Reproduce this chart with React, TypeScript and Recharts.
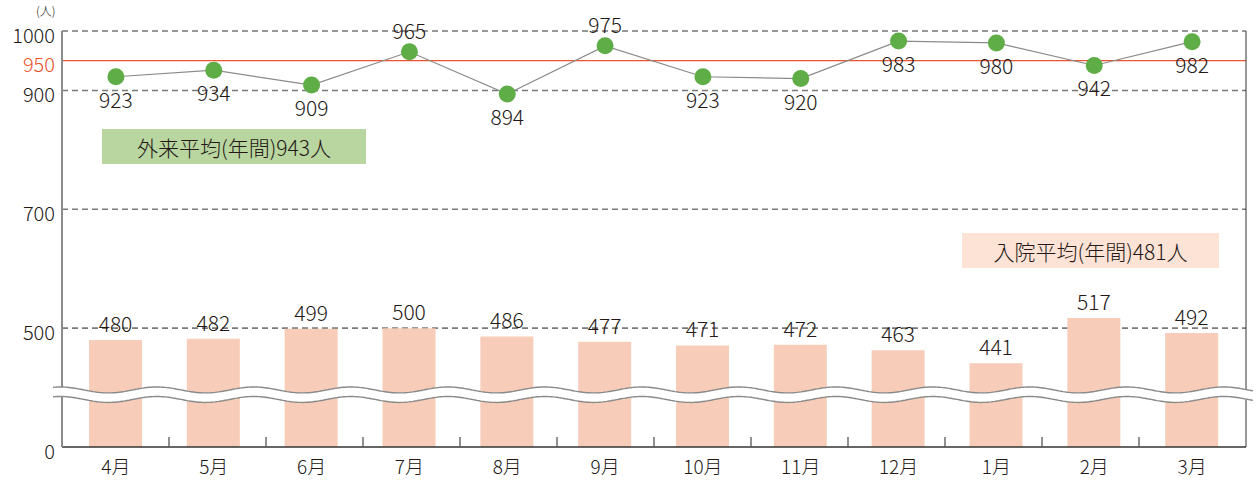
import React from 'react';
import {
  ComposedChart,
  Bar,
  Line,
  XAxis,
  YAxis,
  ReferenceLine,
  ReferenceArea,
  LabelList,
} from 'recharts';

// ---- data ----
const months = ['4月', '5月', '6月', '7月', '8月', '9月', '10月', '11月', '12月', '1月', '2月', '3月'];
const inpatient = [480, 482, 499, 500, 486, 477, 471, 472, 463, 441, 517, 492];
const outpatient = [923, 934, 909, 965, 894, 975, 923, 920, 983, 980, 942, 982];
const labelAboveMonths = ['7月', '9月'];
const yTicks = [300, 500, 700, 900, 950, 1000]; // 300 is the broken-axis floor, shown as "0"
const axisFloor = 300;
const targetValue = 950;
const gridValues = [500, 700, 900];
const topValue = 1000;
const breakRange = [380, 396];
const unitLabel = '(人)';
const outpatientAvgText = '外来平均(年間)943人';
const inpatientAvgText = '入院平均(年間)481人';

const data = months.map((m, i) => ({ month: m, inpatient: inpatient[i], outpatient: outpatient[i] }));

const FONT = '"Noto Sans CJK JP", "Noto Sans", sans-serif';
const TEXT = '#231815';
const W = 300;
const PAD = 5;

const YTick = (props: any) => {
  const { x, y, payload } = props;
  const v = payload.value;
  return (
    <text x={x} y={y} dy={11.5} textAnchor="end" fontSize={20} fontFamily={FONT} fontWeight={W}
      fill={v === targetValue ? '#e9532b' : TEXT}>
      {v === axisFloor ? '0' : v}
    </text>
  );
};

const XTick = (props: any) => {
  const { x, y, payload } = props;
  return (
    <text x={x} y={y} dy={27} textAnchor="middle" fontSize={19} fontFamily={FONT} fontWeight={W} fill={TEXT}>
      {payload.value}
    </text>
  );
};

const LineLabel = (props: any) => {
  const { x, y, value, index } = props;
  const m = index != null ? months[index] : months[outpatient.indexOf(value)];
  const above = labelAboveMonths.includes(m);
  return (
    <text x={x} y={above ? y - 13 : y + 31} textAnchor="middle" fontSize={21} fontFamily={FONT} fontWeight={W} fill={TEXT}>
      {value}
    </text>
  );
};

const BreakWave = (props: any) => {
  const { x, y, width, height } = props;
  const n = months.length;
  const P = (width - 2 * PAD) / n;
  const bandLeft = x + PAD;
  const peakX = bandLeft + P * 0.875;
  const A = 3;
  const left = x - 14;
  const right = x + width + 12;
  const top: [number, number][] = [];
  const bot: [number, number][] = [];
  for (let px = left; px <= right; px += 2) {
    const d = -A * Math.cos((2 * Math.PI * (px - peakX)) / P);
    top.push([px, y + d]);
    bot.push([px, y + height + d]);
  }
  const toPath = (pts: [number, number][]) =>
    pts.map((p, i) => `${i ? 'L' : 'M'}${p[0].toFixed(1)},${p[1].toFixed(1)}`).join(' ');
  const fill =
    toPath(top) + ' ' + bot.slice().reverse().map((p) => `L${p[0].toFixed(1)},${p[1].toFixed(1)}`).join(' ') + ' Z';
  return (
    <g>
      <path d={fill} fill="#fff" stroke="none" />
      <path d={toPath(top)} fill="none" stroke="#8a8a8a" strokeWidth={1.4} />
      <path d={toPath(bot)} fill="none" stroke="#8a8a8a" strokeWidth={1.4} />
    </g>
  );
};

const Separators = (props: any) => {
  const { x, y, width, height } = props;
  const n = months.length;
  const P = (width - 2 * PAD) / n;
  const bottom = y + height;
  const lines = [];
  for (let k = 1; k < n; k++) {
    const px = x + PAD + k * P;
    lines.push(<line key={k} x1={px} x2={px} y1={bottom} y2={bottom - 10} stroke="#555" strokeWidth={1.3} />);
  }
  return <g>{lines}</g>;
};

export default function App() {
  return (
    <div style={{ position: 'absolute', left: 0, top: 0, width: 1256, height: 482, background: '#fff', fontFamily: FONT, fontWeight: W }}>
      <ComposedChart width={1256} height={482} data={data} margin={{ top: 31, right: 0, bottom: 0, left: 0 }}>
        <ReferenceLine yAxisId="y" xAxisId="x" y={topValue} stroke="#333" strokeDasharray="6 4" strokeWidth={1.2} zIndex={-10} />
        {gridValues.map((v) => (
          <ReferenceLine key={v} yAxisId="y" xAxisId="x" y={v} stroke="#7a7a7a" strokeDasharray="6 4" strokeWidth={1.6} zIndex={-10} />
        ))}
        <ReferenceLine yAxisId="y" xAxisId="x" y={targetValue} stroke="#ea5532" strokeWidth={1.3} zIndex={-10} />
        <XAxis
          xAxisId="x"
          dataKey="month"
          padding={{ left: PAD, right: PAD }}
          axisLine={{ stroke: '#333', strokeWidth: 1.5 }}
          tickLine={false}
          tickSize={0}
          tickMargin={0}
          height={35}
          interval={0}
          tick={<XTick />}
        />
        <YAxis
          yAxisId="y"
          orientation="left"
          width={62}
          domain={[axisFloor, 1000]}
          ticks={yTicks}
          allowDataOverflow
          interval={0}
          axisLine={{ stroke: '#8c8c8c', strokeWidth: 2 }}
          tickLine={false}
          tickSize={0}
          tickMargin={7}
          tick={<YTick />}
        />
        <YAxis
          yAxisId="r"
          orientation="right"
          width={10}
          domain={[axisFloor, 1000]}
          tick={false}
          tickLine={false}
          axisLine={{ stroke: '#333', strokeWidth: 1 }}
        />
        <Bar yAxisId="y" xAxisId="x" dataKey="inpatient" fill="#f7cdb9" barSize={53} isAnimationActive={false}>
          <LabelList dataKey="inpatient" position="top" offset={8} fontSize={21} fontFamily={FONT} fontWeight={W} fill={TEXT} />
        </Bar>
        <Line
          yAxisId="y"
          xAxisId="x"
          dataKey="outpatient"
          stroke="#8a8a8a"
          strokeWidth={1.2}
          dot={{ r: 8.5, fill: '#5fad46', stroke: 'none' }}
          activeDot={false}
          isAnimationActive={false}
        >
          <LabelList dataKey="outpatient" content={<LineLabel />} />
        </Line>
        <ReferenceArea yAxisId="y" xAxisId="x" y1={axisFloor} y2={axisFloor + 17} shape={<Separators />} ifOverflow="visible" zIndex={650} />
        <ReferenceArea yAxisId="y" xAxisId="x" y1={breakRange[0]} y2={breakRange[1]} shape={<BreakWave />} ifOverflow="visible" zIndex={600} />
      </ComposedChart>
      <div style={{ position: 'absolute', left: 36, top: 4, fontSize: 12, lineHeight: '14px', color: TEXT }}>{unitLabel}</div>
      <div
        style={{
          position: 'absolute', left: 102, top: 129, width: 264, height: 35, background: '#b9d5a0',
          display: 'flex', alignItems: 'center', justifyContent: 'center', fontSize: 21, color: TEXT,
        }}
      >
        {outpatientAvgText}
      </div>
      <div
        style={{
          position: 'absolute', left: 962, top: 233, width: 257, height: 35, background: '#fde3d6',
          display: 'flex', alignItems: 'center', justifyContent: 'center', fontSize: 21, color: TEXT,
        }}
      >
        {inpatientAvgText}
      </div>
    </div>
  );
}
